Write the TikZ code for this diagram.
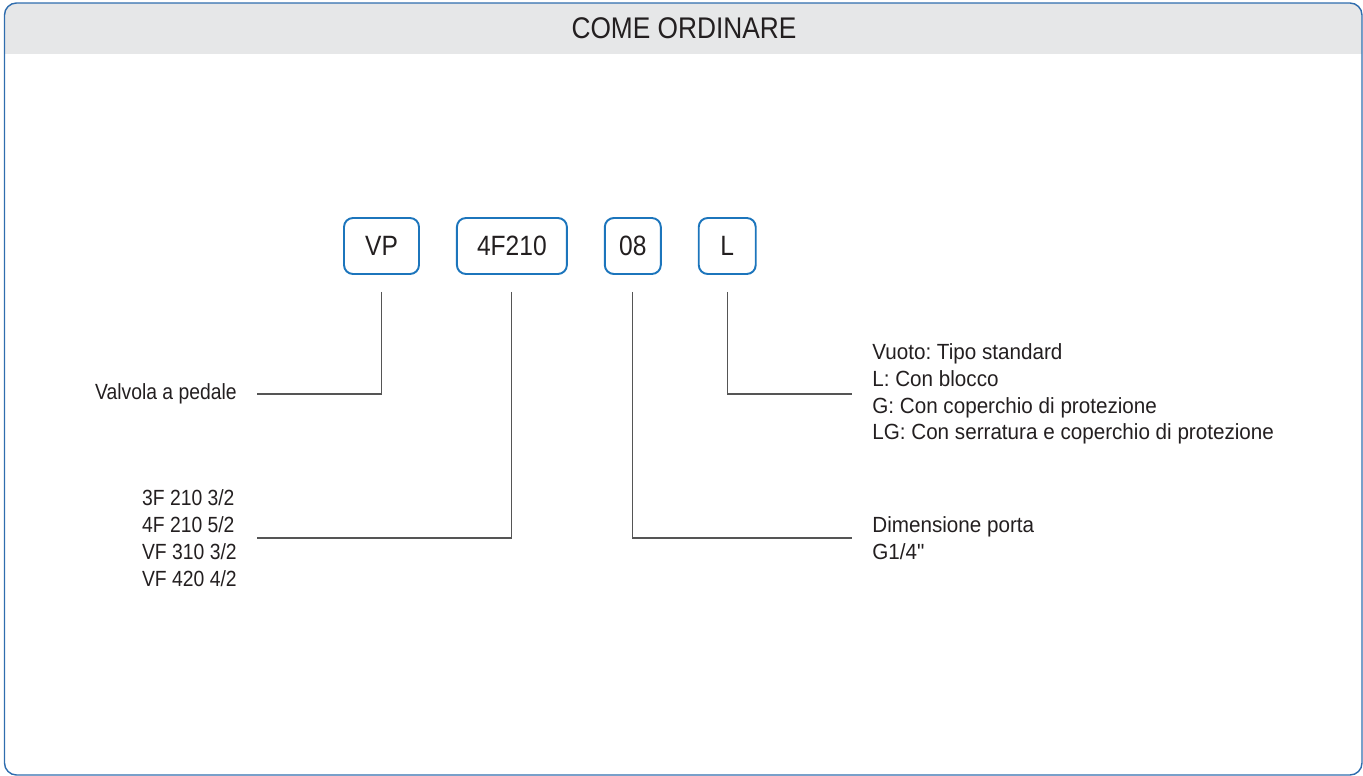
\documentclass[tikz,border=0pt]{standalone}
\usepackage{fontspec}
\setmainfont[FakeStretch=0.88]{Liberation Sans}
\newfontfamily\rightfont[FakeStretch=0.94, Ligatures=TeXOff]{Liberation Sans}
\usepackage{tikz}
\usetikzlibrary{positioning}

\definecolor{framblue}{HTML}{2F6DAE}
\definecolor{boxblue}{HTML}{1C75BC}
\definecolor{headgray}{HTML}{E6E7E8}
\definecolor{inkgray}{HTML}{231F20}
\definecolor{wiregray}{HTML}{555555}

\frenchspacing
\begin{document}
\begin{tikzpicture}[
  x=0.02cm, y=-0.02cm,
  node distance=0.72cm,
  every node/.style={text=inkgray},
  codebox/.style={rectangle, rounded corners=0.18cm, draw=boxblue, line width=1.1pt, minimum height=1.12cm, inner sep=0pt, font=\fontsize{15.9}{19}\selectfont},
  note/.style={inner sep=0pt, align=left, font=\fontsize{12.5}{15.3}\selectfont},
  rnote/.style={note, font=\rightfont\fontsize{12.5}{15.3}\selectfont},
  conn/.style={draw=wiregray, line width=0.6pt}
]
  \useasboundingbox (0,0) rectangle (1363,776);

  % frame and header band
  \begin{scope}
    \clip[rounded corners=0.24cm] (4.5,3) rectangle (1362,775);
    \fill[headgray] (4.5,3) rectangle (1362,54);
  \end{scope}
  \draw[framblue, line width=0.8pt, rounded corners=0.24cm] (4.5,3) rectangle (1362,775);
  \node[font=\fontsize{17}{20}\selectfont] (title) at (684,28) {COME ORDINARE};

  % order code
  \node[codebox, minimum width=1.5cm] (vp) at (381.5,246) {VP};
  \node[codebox, minimum width=2.2cm, right=of vp] (ser) {4F210};
  \node[codebox, minimum width=1.12cm, right=of ser] (att) {08};
  \node[codebox, minimum width=1.14cm, right=of att] (opt) {L};

  % descriptions
  \node[note, anchor=east] (pedale) at (237,394) {Valvola a pedale};
  \node[note, anchor=east] (serie) at (237,538) {3F 210 3/2\\4F 210 5/2\\VF 310 3/2\\VF 420 4/2};
  \node[rnote, anchor=west] (opz) at (872,394) {Vuoto: Tipo standard\\L: Con blocco\\G: Con coperchio di protezione\\LG: Con serratura e coperchio di protezione};
  \node[rnote, anchor=west] (porta) at (872,538) {Dimensione porta\\G1/4"};

  \draw[conn] ([yshift=-0.34cm]vp.south) |- ([xshift=0.4cm]pedale.east);
  \draw[conn] ([yshift=-0.34cm]ser.south) |- ([xshift=0.4cm]serie.east);
  \draw[conn] ([yshift=-0.34cm]att.south) |- ([xshift=-0.4cm]porta.west);
  \draw[conn] ([yshift=-0.34cm]opt.south) |- ([xshift=-0.4cm]opz.west);
\end{tikzpicture}
\end{document}
